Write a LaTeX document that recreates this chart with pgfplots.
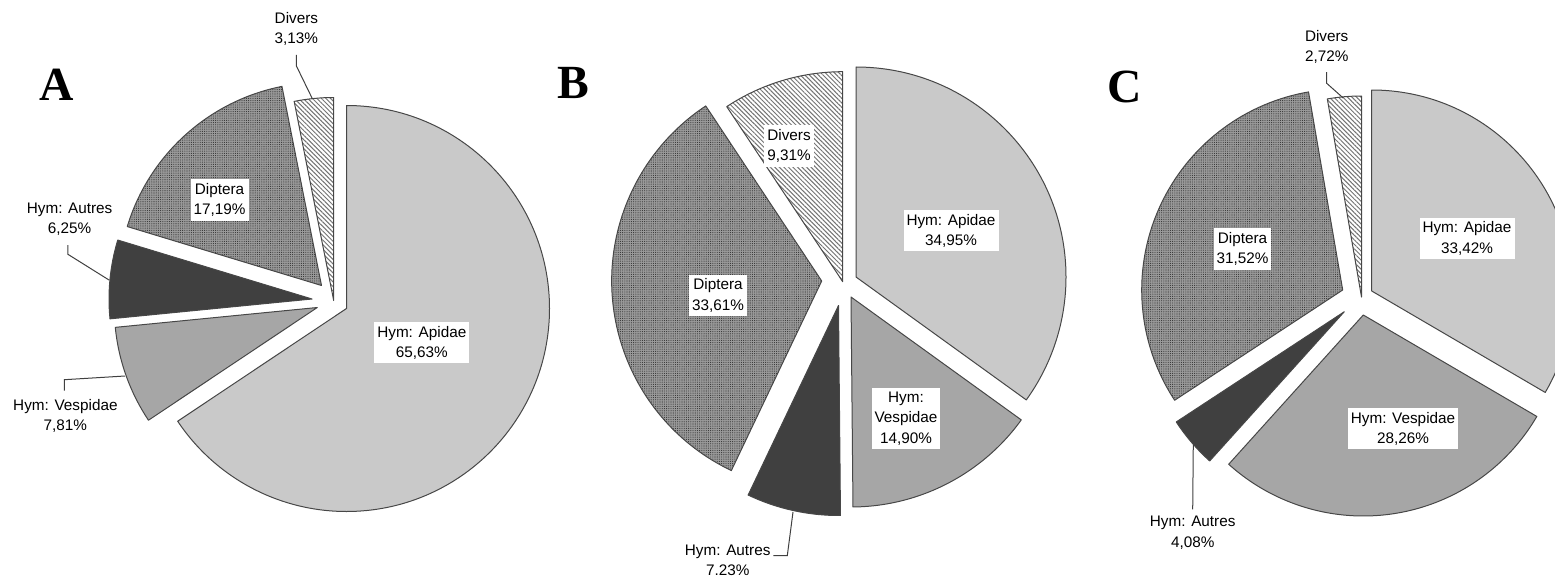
\documentclass[border=0pt]{standalone}
\usepackage{fontspec}
\setmainfont{Liberation Sans}
\newfontfamily\serifbf{Liberation Serif}
\usepackage{pgfplots}
\pgfplotsset{compat=1.18}
\usetikzlibrary{patterns.meta}

% #1 apex x, #2 apex y (pixels, y downwards), #3 radius, #4 cumulative start (%), #5 value (%), #6 style
\newcommand{\slice}[6]{%
  \path[#6] (axis cs:#1,#2) -- ++({90-3.6*(#4)}:#3pt)
    arc[start angle={90-3.6*(#4)}, end angle={90-3.6*(#4+#5)}, radius=#3pt] -- cycle;}

\tikzset{
  sl/.style={draw=black!72, line width=1pt, line join=round},
  apidae/.style={sl, fill=black!21},
  vespidae/.style={sl, fill=black!35},
  autres/.style={sl, fill=black!75},
  diptera/.style={sl, preaction={fill=black!40}, pattern={Dots[distance=2.2pt, radius=0.55pt]}, pattern color=black!80},
  divers/.style={sl, preaction={fill=white}, pattern={Lines[angle=-45, distance=3.2pt, line width=1pt]}, pattern color=black!55},
  lab/.style={font=\fontsize{15.3}{20.3}\selectfont, align=center, inner sep=0pt, text=black},
  box/.style={lab, fill=white, inner xsep=3pt, inner ysep=4pt},
  lead/.style={draw=black!75, line width=1pt},
  ttl/.style={font=\serifbf\bfseries\fontsize{47.6}{50}\selectfont, inner sep=0pt},
}

\begin{document}
\begin{tikzpicture}
\useasboundingbox (0,0) rectangle (1555pt,578pt);
\begin{axis}[at={(0,0)}, anchor=south west, scale only axis,
  width=1555pt, height=578pt, xmin=0, xmax=1555, ymin=0, ymax=578,
  y dir=reverse, hide axis]

% ---------- A ----------
\slice{346.5}{308.5}{203}{0}{65.63}{apidae}
\slice{317.3}{307.5}{203}{65.63}{7.81}{vespidae}
\slice{312}{299}{203}{73.44}{6.25}{autres}
\slice{321.5}{285.5}{203}{79.69}{17.19}{diptera}
\slice{333.7}{300.5}{203}{96.88}{3.12}{divers}

\node[ttl] at (axis cs:57,84.8) {A};
\node[lab] at (axis cs:296.4,28.7) {Divers\\3,13\%};
\draw[lead] (axis cs:296.4,55) -- (axis cs:296.4,66) -- (axis cs:312.5,99);
\node[box] at (axis cs:219.6,200) {Diptera\\17,19\%};
\node[lab] at (axis cs:69.6,219.3) {Hym: Autres\\6,25\%};
\draw[lead] (axis cs:67.9,245) -- (axis cs:67.9,254.3) -- (axis cs:109,280);
\node[box] at (axis cs:421.8,342.8) {Hym: Apidae\\65,63\%};
\node[lab] at (axis cs:65.4,415.8) {Hym: Vespidae\\7,81\%};
\draw[lead] (axis cs:64.3,390.7) -- (axis cs:64.3,379.7) -- (axis cs:125,376);

% ---------- B ----------
\slice{856}{277}{210}{0}{34.95}{apidae}
\slice{851}{297}{210}{34.95}{14.90}{vespidae}
\slice{838.5}{305.5}{210}{49.85}{7.23}{autres}
\slice{821.7}{281}{210}{57.08}{33.61}{diptera}
\slice{842.7}{281.7}{210}{90.69}{9.31}{divers}

\node[ttl] at (axis cs:573.3,83.3) {B};
\node[box] at (axis cs:789,146) {Divers\\9,31\%};
\node[box] at (axis cs:951,230.6) {Hym: Apidae\\34,95\%};
\node[box] at (axis cs:718,295.4) {Diptera\\33,61\%};
\node[box] at (axis cs:906,418.5) {Hym:\\Vespidae\\14,90\%};
\node[lab] at (axis cs:727.7,560) {Hym: Autres\\7.23\%};
\draw[lead] (axis cs:793,512) -- (axis cs:787.3,555.6) -- (axis cs:773.3,555.6);

% ---------- C ----------
\slice{1371.7}{291}{201}{0}{33.42}{apidae}
\slice{1363.3}{315}{201}{33.42}{28.26}{vespidae}
\slice{1344.3}{311.7}{201}{61.68}{4.08}{autres}
\slice{1342.7}{290}{201}{65.76}{31.52}{diptera}
\slice{1361.5}{297}{201}{97.28}{2.72}{divers}

\node[ttl] at (axis cs:1125,87) {C};
\node[lab] at (axis cs:1326.7,47) {Divers\\2,72\%};
\draw[lead] (axis cs:1326.7,72.2) -- (axis cs:1326.7,83.3) -- (axis cs:1343.3,98.1);
\node[box] at (axis cs:1242.5,249) {Diptera\\31,52\%};
\node[box] at (axis cs:1467,238.5) {Hym: Apidae\\33,42\%};
\node[box] at (axis cs:1403,428.7) {Hym: Vespidae\\28,26\%};
\node[lab] at (axis cs:1192.7,532.8) {Hym: Autres\\4,08\%};
\draw[lead] (axis cs:1192.7,509.3) -- (axis cs:1193.3,442.6);

\end{axis}
\end{tikzpicture}
\end{document}
